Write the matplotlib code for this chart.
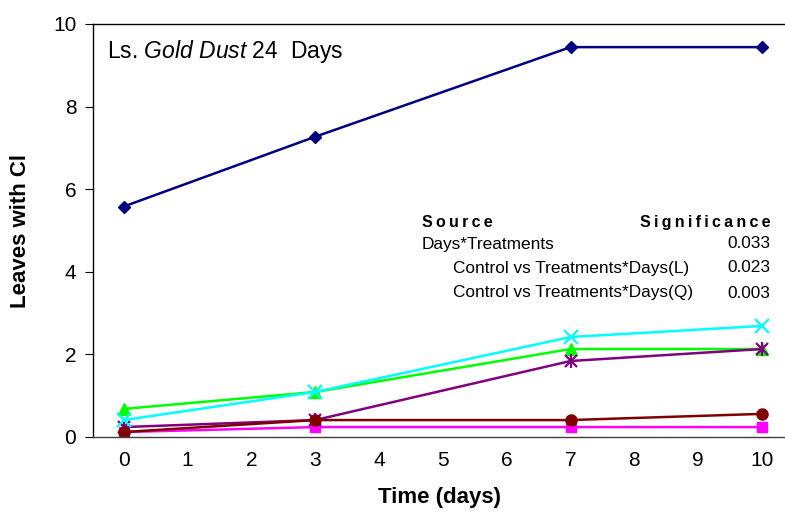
import matplotlib
matplotlib.use('Agg')
import matplotlib.pyplot as plt

plt.rcParams['font.family'] = ['Liberation Sans', 'DejaVu Sans']
plt.rcParams['mathtext.fontset'] = 'custom'
plt.rcParams['mathtext.rm'] = 'Liberation Sans'
plt.rcParams['mathtext.it'] = 'Liberation Sans:italic'

# Daten
days = [0, 3, 7, 10]
navy_vals = [5.58, 7.27, 9.44, 9.44]
cyan_vals = [0.41, 1.09, 2.42, 2.69]
green_vals = [0.68, 1.09, 2.13, 2.13]
purple_vals = [0.24, 0.41, 1.84, 2.13]
maroon_vals = [0.12, 0.41, 0.41, 0.56]
magenta_vals = [0.12, 0.24, 0.24, 0.24]

sources = ['Days*Treatments', 'Control vs Treatments*Days(L)', 'Control vs Treatments*Days(Q)']
signif = ['0.033', '0.023', '0.003']

fig = plt.figure(figsize=(7.85, 5.32), dpi=100)
ax = fig.add_axes([93/785, 95/532, 1 - 93/785, 413/532])

lw = 1.8
ax.plot(days, magenta_vals, color='#FF00FF', marker='s', ms=7, lw=lw)
ax.plot(days, green_vals, color='#00FF00', marker='^', ms=9, lw=lw)
ax.plot(days, purple_vals, color='#800080', marker='x', ms=9, mew=1.6, lw=lw)
ax.plot(days, purple_vals, color='#800080', marker='|', ms=10, mew=1.6, lw=0)
ax.plot(days, maroon_vals, color='#800000', marker='o', ms=8, lw=lw)
ax.plot(days, cyan_vals, color='#00FFFF', marker='x', ms=10, mew=1.6, lw=lw)
ax.plot(days, navy_vals, color='#000080', marker='D', ms=6.5, lw=lw)

ax.set_xlim(-0.48, 10.36)
ax.set_ylim(0, 10)
ax.set_xticks(range(0, 11))
ax.set_yticks(range(0, 11, 2))
ax.tick_params(axis='x', length=0, pad=10, labelsize=15)
ax.tick_params(axis='y', length=6, pad=6, labelsize=15, direction='out')
ax.spines['right'].set_visible(False)
for s in ['top', 'left', 'bottom']:
    ax.spines[s].set_linewidth(1.0)
ax.spines['bottom'].set_color('#404040')

ax.set_xlabel('Time (days)', fontsize=16, fontweight='bold', labelpad=12)
ax.set_ylabel('Leaves with Cl', fontsize=16, fontweight='bold', labelpad=16)

ax.text(0.02, 0.965, r'Ls. $\mathit{Gold\ Dust}$ 24  Days', transform=ax.transAxes,
        fontsize=16.5, va='top', ha='left')

# Tabelle
def px(x, y):
    return x / 785, 1 - y / 532

thin = '\u2009'
fig.text(*px(422, 222), thin.join('Source'), fontsize=11.5, fontweight='bold', va='center', ha='left')
fig.text(*px(770, 222), thin.join('Significance'), fontsize=11.5, fontweight='bold', va='center', ha='right')
rows_y = [244, 268, 293]
rows_x = [422, 453, 453]
for s, v, yy, xx in zip(sources, signif, rows_y, rows_x):
    fig.text(*px(xx, yy), s, fontsize=12.4, va='center', ha='left')
    fig.text(*px(770, yy), v, fontsize=12.4, va='center', ha='right')

fig.savefig('out.png', dpi=100)
